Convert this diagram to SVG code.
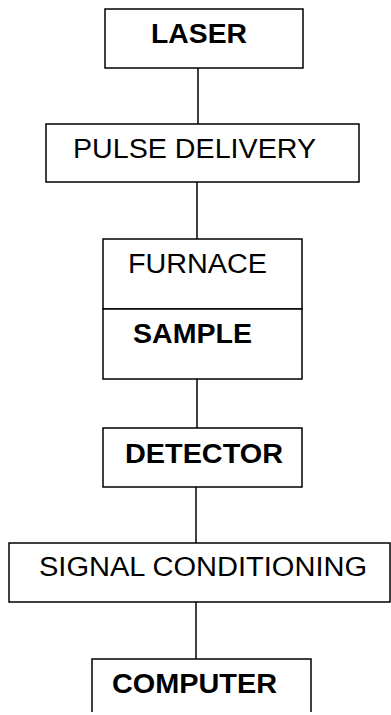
<svg xmlns="http://www.w3.org/2000/svg" width="391" height="715" viewBox="0 0 391 715">
<style>
.box{fill:#fff;stroke:#000;stroke-width:1.5}
.t{font-family:"Liberation Sans",Arial,sans-serif;font-size:27px;fill:#000}
.b{font-weight:bold}
.c{stroke:#000;stroke-width:1.5;fill:none}
</style>
<rect width="391" height="715" fill="#fff"/>
<g id="connectors">
<line class="c" x1="198" y1="68" x2="198" y2="124"/>
<line class="c" x1="197" y1="182" x2="197" y2="239"/>
<line class="c" x1="197" y1="379" x2="197" y2="428"/>
<line class="c" x1="196" y1="487" x2="196" y2="543"/>
<line class="c" x1="196" y1="602" x2="196" y2="659"/>
</g>
<g id="laser">
<rect class="box" x="105" y="9" width="198" height="59"/>
<text class="t b" x="151" y="43" font-size="26" textLength="96" lengthAdjust="spacingAndGlyphs">LASER</text>
</g>
<g id="pulse-delivery">
<rect class="box" x="46" y="124" width="313" height="58"/>
<text class="t" x="73" y="158" textLength="243" lengthAdjust="spacingAndGlyphs">PULSE DELIVERY</text>
</g>
<g id="furnace">
<rect class="box" x="103" y="239" width="199" height="70"/>
<text class="t" x="128" y="273" font-size="28" textLength="139" lengthAdjust="spacingAndGlyphs">FURNACE</text>
</g>
<g id="sample">
<rect class="box" x="103" y="309" width="199" height="70"/>
<text class="t b" x="133" y="343" font-size="28" textLength="119" lengthAdjust="spacingAndGlyphs">SAMPLE</text>
</g>
<g id="detector">
<rect class="box" x="103" y="428" width="199" height="59"/>
<text class="t b" x="125" y="463" font-size="28" textLength="158" lengthAdjust="spacingAndGlyphs">DETECTOR</text>
</g>
<g id="signal-conditioning">
<rect class="box" x="9" y="543" width="381" height="59"/>
<text class="t" x="39" y="576" font-size="25" textLength="328" lengthAdjust="spacingAndGlyphs">SIGNAL CONDITIONING</text>
</g>
<g id="computer">
<path class="box" d="M92 712 V659 H311 V712"/>
<text class="t b" x="112" y="693" font-size="28" textLength="165" lengthAdjust="spacingAndGlyphs">COMPUTER</text>
</g>
</svg>
